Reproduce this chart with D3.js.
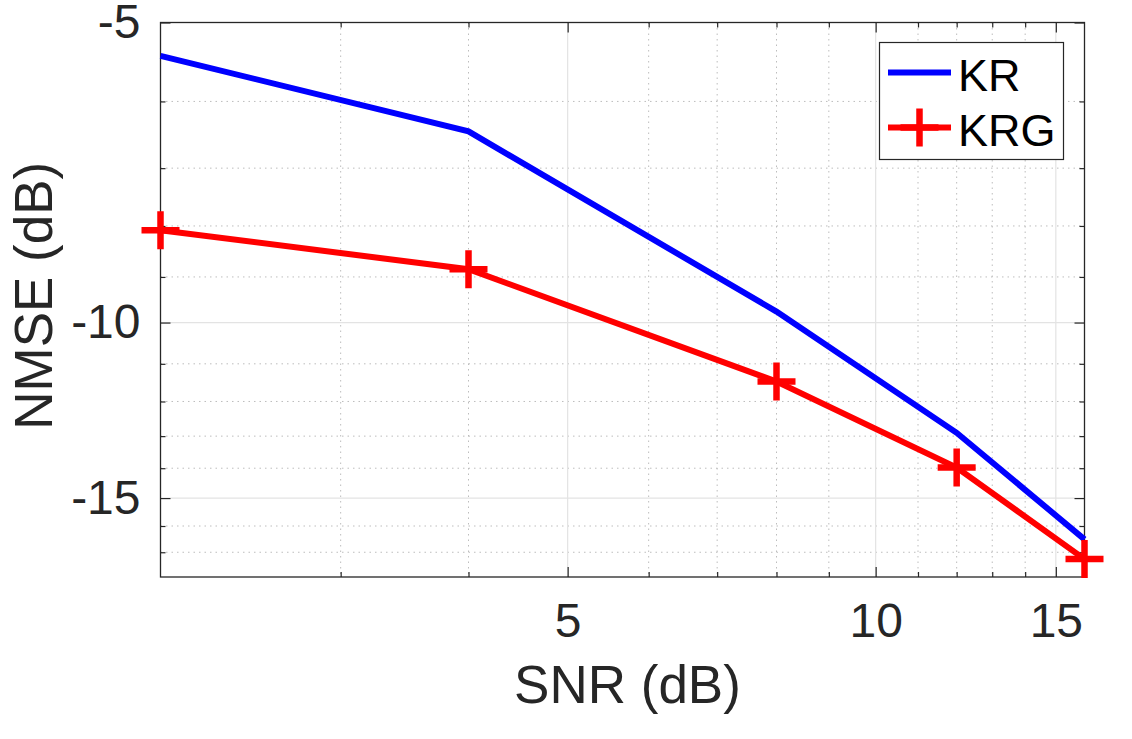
<!DOCTYPE html>
<html>
<head>
<meta charset="utf-8">
<script src="https://cdn.jsdelivr.net/npm/d3@7"></script>
<style>
  body { margin: 0; background: #fff; }
  text { font-family: "Liberation Sans", Arial, sans-serif; fill: #262626; }
</style>
</head>
<body>
<div id="chart"></div>
<script>
// data
var snr = [2, 4, 8, 12, 16];
var kr = [-5.40, -6.43, -9.75, -12.9, -16.5];
var krg = [-8.08, -8.84, -11.46, -13.98, -17.27];
var seriesNames = ["KR", "KRG"];
var xMajor = [5, 10, 15];
var xMinor = [3, 4, 6, 7, 8, 9, 11, 12, 13, 14];
var yMajor = [-5, -10, -15];
var yMinor = [-6, -7, -8, -9, -11, -12, -13, -14, -16, -17];

function init() {
    var w = 1132, h = 739;
    var left = 160.5, right = 1084.5, top = 22.5, bottom = 577;

    var svg = d3.select("#chart").append("svg")
        .attr("width", w)
        .attr("height", h);

    // log axes on both sides (y is negative dB, so log of a negative domain)
    var xScale = d3.scaleLog().domain([2, 16]).range([left, right]);
    var yScale = d3.scaleLog().domain([-5, -18]).range([top, bottom]);

    // grid
    var grid = svg.append("g");
    grid.selectAll(".xmin").data(xMinor).enter().append("line")
        .attr("x1", d => xScale(d)).attr("x2", d => xScale(d))
        .attr("y1", top).attr("y2", bottom)
        .attr("stroke", "#bdbdbd").attr("stroke-width", 1).attr("stroke-dasharray", "1.5,4");
    grid.selectAll(".ymin").data(yMinor).enter().append("line")
        .attr("x1", left).attr("x2", right)
        .attr("y1", d => yScale(d)).attr("y2", d => yScale(d))
        .attr("stroke", "#bdbdbd").attr("stroke-width", 1).attr("stroke-dasharray", "1.5,4");
    grid.selectAll(".xmaj").data(xMajor).enter().append("line")
        .attr("x1", d => xScale(d)).attr("x2", d => xScale(d))
        .attr("y1", top).attr("y2", bottom)
        .attr("stroke", "#e3e3e3").attr("stroke-width", 1.2);
    grid.selectAll(".ymaj").data(yMajor).enter().append("line")
        .attr("x1", left).attr("x2", right)
        .attr("y1", d => yScale(d)).attr("y2", d => yScale(d))
        .attr("stroke", "#e3e3e3").attr("stroke-width", 1.2);

    // axes (ticks point inward, box on)
    var fmt = d => String(d);
    function styleAxis(g) {
        g.select(".domain").remove();
        g.selectAll("line").attr("stroke", "#262626").attr("stroke-width", 1.2);
        g.selectAll("text").style("font-size", "48px").attr("fill", "#262626")
            .style("font-family", "'Liberation Sans', Arial, sans-serif");
    }

    svg.append("g").attr("transform", "translate(0," + bottom + ")")
        .call(d3.axisBottom(xScale).tickValues(xMajor).tickFormat(fmt).tickSize(-10).tickPadding(26))
        .call(styleAxis);
    svg.append("g").attr("transform", "translate(0," + bottom + ")")
        .call(d3.axisBottom(xScale).tickValues(xMinor).tickFormat("").tickSize(-5))
        .call(styleAxis);
    svg.append("g").attr("transform", "translate(0," + top + ")")
        .call(d3.axisTop(xScale).tickValues(xMajor).tickFormat("").tickSize(-10))
        .call(styleAxis);
    svg.append("g").attr("transform", "translate(0," + top + ")")
        .call(d3.axisTop(xScale).tickValues(xMinor).tickFormat("").tickSize(-5))
        .call(styleAxis);

    svg.append("g").attr("transform", "translate(" + left + ",0)")
        .call(d3.axisLeft(yScale).tickValues(yMajor).tickFormat(fmt).tickSize(-10).tickPadding(20))
        .call(styleAxis);
    svg.append("g").attr("transform", "translate(" + left + ",0)")
        .call(d3.axisLeft(yScale).tickValues(yMinor).tickFormat("").tickSize(-5))
        .call(styleAxis);
    svg.append("g").attr("transform", "translate(" + right + ",0)")
        .call(d3.axisRight(yScale).tickValues(yMajor).tickFormat("").tickSize(-10))
        .call(styleAxis);
    svg.append("g").attr("transform", "translate(" + right + ",0)")
        .call(d3.axisRight(yScale).tickValues(yMinor).tickFormat("").tickSize(-5))
        .call(styleAxis);

    // box
    svg.append("rect")
        .attr("x", left).attr("y", top)
        .attr("width", right - left).attr("height", bottom - top)
        .attr("fill", "none").attr("stroke", "#262626").attr("stroke-width", 1.3);

    // lines
    var line = d3.line()
        .x(function(d, i) { return xScale(snr[i]); })
        .y(function(d) { return yScale(d); });

    svg.append("path").datum(kr)
        .attr("d", line)
        .attr("fill", "none").attr("stroke", "#0000ff").attr("stroke-width", 6);

    svg.append("path").datum(krg)
        .attr("d", line)
        .attr("fill", "none").attr("stroke", "#ff0000").attr("stroke-width", 6);

    var plus = "M-19,0H19M0,-19V19";
    svg.selectAll(".mk").data(krg).enter().append("path")
        .attr("transform", function(d, i) { return "translate(" + xScale(snr[i]) + "," + yScale(d) + ")"; })
        .attr("d", plus)
        .attr("fill", "none").attr("stroke", "#ff0000").attr("stroke-width", 6.5);

    // axis labels
    svg.append("text")
        .attr("x", (left + right) / 2 + 5)
        .attr("y", 703)
        .attr("text-anchor", "middle")
        .style("font-size", "53px")
        .text("SNR (dB)");

    svg.append("text")
        .attr("transform", "translate(52," + ((top + bottom) / 2 - 4) + ") rotate(-90)")
        .attr("text-anchor", "middle")
        .style("font-size", "53px")
        .text("NMSE (dB)");

    // legend
    var lg = svg.append("g");
    lg.append("rect")
        .attr("x", 879.5).attr("y", 42.5).attr("width", 184).attr("height", 117)
        .attr("fill", "#fff").attr("stroke", "#262626").attr("stroke-width", 1.2);
    var legendY = [72.5, 127.5];
    var colors = ["#0000ff", "#ff0000"];
    seriesNames.forEach(function(name, i) {
        lg.append("line")
            .attr("x1", 888).attr("x2", 951)
            .attr("y1", legendY[i]).attr("y2", legendY[i])
            .attr("stroke", colors[i]).attr("stroke-width", 6);
        if (i === 1) {
            lg.append("path")
                .attr("transform", "translate(919.5," + legendY[i] + ")")
                .attr("d", plus)
                .attr("fill", "none").attr("stroke", colors[i]).attr("stroke-width", 6.5);
        }
        lg.append("text")
            .attr("x", 958)
            .attr("y", legendY[i] + 18)
            .style("font-size", "45px")
            .style("fill", "#000")
            .text(name);
    });
}

window.onload = init;
</script>
</body>
</html>
